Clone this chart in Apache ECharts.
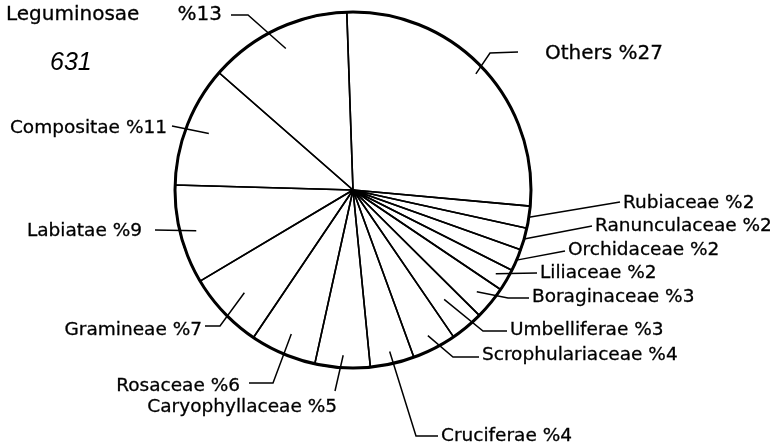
<!DOCTYPE html>
<html>
<head>
<meta charset="utf-8">
<script src="https://cdn.jsdelivr.net/npm/echarts@6/dist/echarts.min.js"></script>
<style>
  html, body { margin: 0; padding: 0; background: #fff; }
  #chart { width: 770px; height: 446px; }
</style>
</head>
<body>
<div id="chart"></div>
<script>
// families, clockwise from 12 o'clock
const families = ['Others', 'Rubiaceae', 'Ranunculaceae', 'Orchidaceae', 'Liliaceae',
  'Boraginaceae', 'Umbelliferae', 'Scrophulariaceae', 'Cruciferae', 'Caryophyllaceae',
  'Rosaceae', 'Gramineae', 'Labiatae', 'Compositae', 'Leguminosae']
const percents = [27, 2, 2, 2, 2, 3, 3, 4, 4, 5, 6, 7, 9, 11, 13]
const note = '631'

const CX = 353, CY = 190, R = 178, START = 92

// where each label sits and how its leader line runs (r = start of line as part of radius)
const places = [
  { x: 545, y: 54, align: 'left', r: 0.95, line: [[490, 53], [518, 52]], big: true },
  { x: 623, y: 203, align: 'left', r: 1.0, line: [[620, 202]] },
  { x: 595, y: 226, align: 'left', r: 1.0, line: [[592, 226]] },
  { x: 568, y: 250, align: 'left', r: 1.0, line: [[565, 251]] },
  { x: 540, y: 273, align: 'left', r: 0.93, line: [[537, 273]] },
  { x: 532, y: 297, align: 'left', r: 0.9, line: [[508, 298], [529, 298]] },
  { x: 510, y: 330, align: 'left', r: 0.8, line: [[483, 331], [507, 331]] },
  { x: 482, y: 355, align: 'left', r: 0.92, line: [[453, 357], [479, 357]] },
  { x: 441, y: 436, align: 'left', r: 0.93, line: [[416, 436], [438, 436]] },
  { x: 337, y: 407, align: 'right', r: 0.93, line: [[335, 391]] },
  { x: 240, y: 386, align: 'right', r: 0.88, line: [[273, 383], [249, 383]] },
  { x: 202, y: 330, align: 'right', r: 0.84, line: [[220, 326], [205, 326]] },
  { x: 142, y: 231, align: 'right', r: 0.91, line: [[155, 230]] },
  { x: 167, y: 128, align: 'right', r: 0.87, line: [[172, 126]] },
  { x: 222, y: 15, align: 'right', r: 0.88, line: [[248, 15], [231, 15]], big: true }
]

const total = percents.reduce((a, b) => a + b, 0)
let acc = 0
const midAngles = percents.map(v => {
  const a = START - (acc + v / 2) / total * 360
  acc += v
  return a
})
function polar(angle, r) {
  const rad = angle * Math.PI / 180
  return [CX + r * Math.cos(rad), CY - r * Math.sin(rad)]
}

const chart = echarts.init(document.getElementById('chart'))
chart.setOption({
  backgroundColor: '#fff',
  animation: false,
  title: {
    text: note,
    left: 45,
    top: 46,
    textStyle: {
      fontFamily: '"Liberation Sans Narrow", "Liberation Sans"',
      fontStyle: 'italic', fontWeight: 'normal', fontSize: 25, color: '#000'
    }
  },
  series: [
    {
      type: 'pie',
      center: [CX, CY],
      radius: R,
      startAngle: START,
      clockwise: true,
      avoidLabelOverlap: false,
      silent: true,
      itemStyle: { color: 'transparent', borderColor: '#000', borderWidth: 1.6 },
      label: {
        show: true,
        position: 'outside',
        color: '#000',
        fontFamily: 'DejaVu Sans',
        fontSize: 18.5,
        textBorderColor: '#000',
        textBorderWidth: 0.3,
        formatter: p => {
          if (p.dataIndex === families.length - 1) return p.name + '      %' + p.value
          return p.name + ' %' + p.value
        }
      },
      labelLine: { show: true, length: 10, length2: 10, lineStyle: { color: '#000', width: 1.5 } },
      labelLayout: params => {
        const i = params.dataIndex
        const L = places[i]
        const start = polar(midAngles[i], L.r * R)
        const out = {
          x: L.x,
          y: L.y,
          align: L.align,
          verticalAlign: 'middle',
          labelLinePoints: [start].concat(L.line)
        }
        if (L.big) out.fontSize = 20
        return out
      },
      data: families.map((n, i) => ({ name: n, value: percents[i] }))
    },
    {
      type: 'pie',
      center: [CX, CY],
      radius: R,
      silent: true,
      label: { show: false },
      labelLine: { show: false },
      itemStyle: { color: 'transparent', borderColor: '#000', borderWidth: 3 },
      data: [1]
    }
  ]
})
</script>
</body>
</html>
